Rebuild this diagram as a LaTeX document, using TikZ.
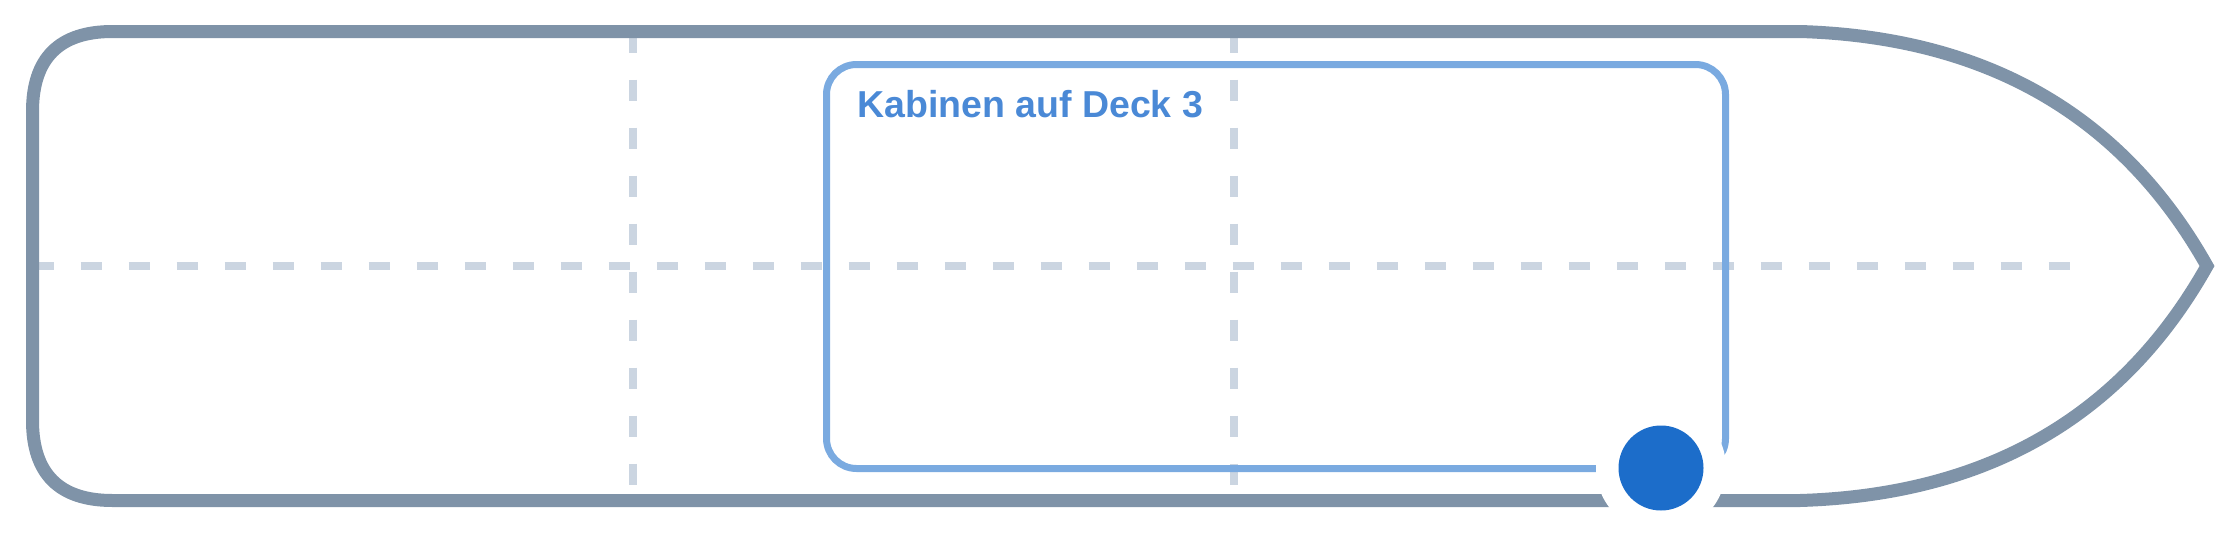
\documentclass[tikz,border=0pt]{standalone}
\usepackage{fontspec}
\setmainfont{Liberation Sans}
\definecolor{hullc}{RGB}{127,147,168}
\definecolor{gridc}{RGB}{203,213,225}
\definecolor{boxc}{RGB}{122,170,224}
\definecolor{lblc}{RGB}{74,137,214}
\definecolor{dotcol}{RGB}{28,109,202}
\begin{document}
\begin{tikzpicture}[x=1pt,y=-1pt,
  hull/.style={draw=hullc, line width=13pt, line join=miter},
  gridline/.style={draw=gridc, line width=8pt, dash pattern=on 21.5pt off 26.5pt},
  cabin/.style={draw=boxc, line width=7pt, rounded corners=30pt, minimum width=899pt, minimum height=404pt, inner sep=0pt},
  lbl/.style={text=lblc, font=\fontsize{37.5}{45}\selectfont\bfseries, inner sep=0pt, anchor=base west},
  halo/.style={circle, fill=white, minimum size=130pt, inner sep=0pt},
  dotstyle/.style={circle, fill=dotcol, minimum size=85pt, inner sep=0pt}]
\useasboundingbox (0,0) rectangle (2240,533);
% grid lines
\coordinate (v1t) at (633,31.5);
\coordinate (v1b) at (633,500.5);
\coordinate (v2t) at (1233.5,31.5);
\coordinate (v2b) at (1233.5,500.5);
\coordinate (hl) at (32.5,266);
\coordinate (hr) at (2070,266);
\draw[gridline] (v1t) -- (v1b);
\draw[gridline] (v2t) -- (v2b);
\draw[gridline] (hl) -- (hr);
% hull
\draw[hull] (112.5,31.5) -- (1800,31.5)
  .. controls (1986.7,37.2) and (2122.3,115.3) .. (2207,266)
  .. controls (2122.3,416.7) and (1986.7,494.8) .. (1800,500.5)
  -- (112.5,500.5)
  .. controls (59.2,500.5) and (32.5,473.8) .. (32.5,420.5)
  -- (32.5,111.5)
  .. controls (32.5,58.2) and (59.2,31.5) .. (112.5,31.5) -- cycle;
% cabin box
\node[cabin] (box) at (1276,266.5) {};
\node[lbl] (title) at (857,117) {Kabinen auf Deck 3};
% dot
\node[halo] (haloc) at (1661,468) {};
\node[dotstyle] (dot) at (1661,468) {};
\end{tikzpicture}
\end{document}
